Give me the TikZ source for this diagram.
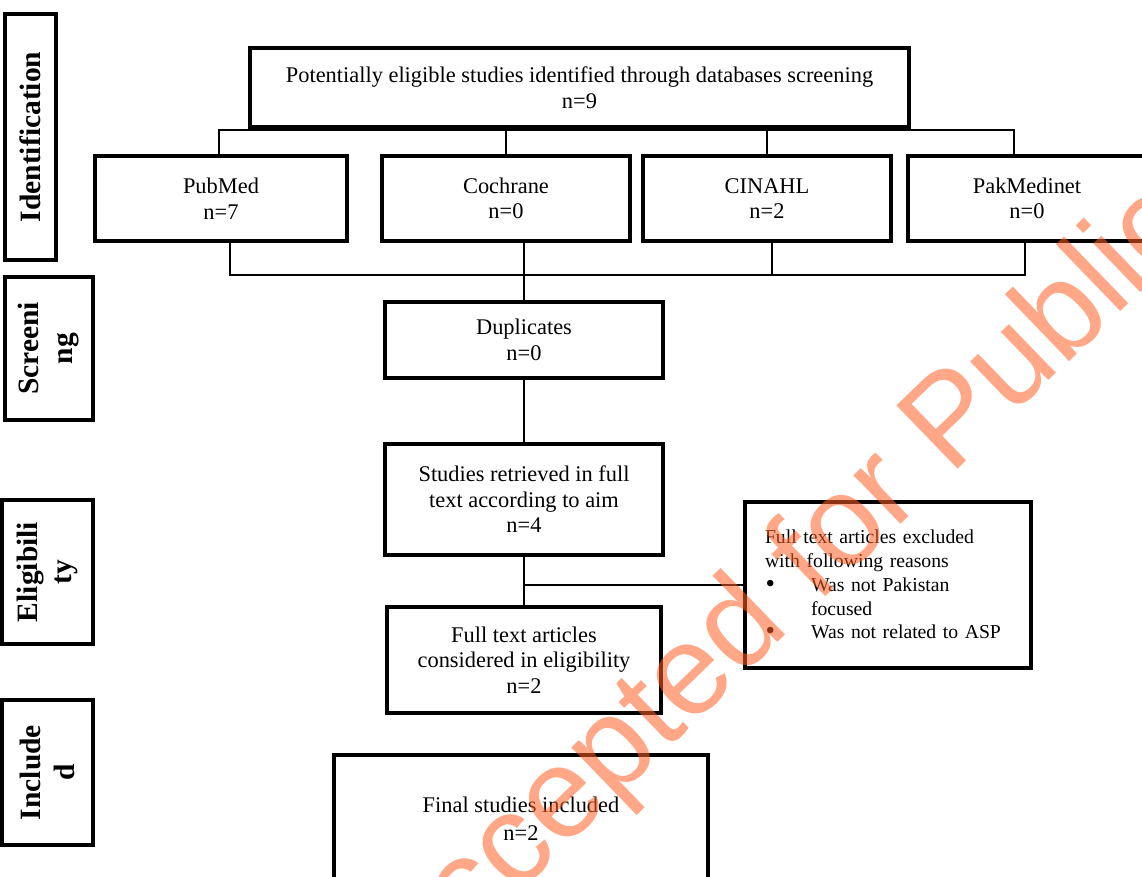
\documentclass[tikz,border=0pt]{standalone}
\usepackage{fontspec}
\setmainfont{Liberation Serif}
\newfontfamily\wmfont{Liberation Sans}
\newcommand{\bodyfont}{\fontsize{22.4}{25.6}\selectfont}
\newcommand{\exclfont}{\fontsize{19.7}{23.7}\selectfont}
\newcommand{\sidefont}{\fontsize{29.5}{34}\selectfont\bfseries}
\newcommand{\bul}{\makebox[46pt][l]{\hspace*{0.5pt}\raisebox{-1pt}{\fontsize{27}{0}\selectfont •}}}
\begin{document}
\begin{tikzpicture}[x=1pt,y=-1pt,
  box/.style={draw, line width=4pt, rectangle, align=center, inner sep=0pt, font=\bodyfont},
  side/.style={draw, line width=4pt, rectangle, rotate=90, align=center, inner sep=0pt, font=\sidefont},
  conn/.style={line width=1.3pt},
  watermark/.style={text=wmcol, opacity=0.55, font=\wmfont\fontsize{128}{128}\selectfont, inner sep=0pt, rotate=44, anchor=base west}]
\definecolor{wmcol}{RGB}{255,95,35}
\useasboundingbox (0,0) rectangle (1142,877);
\clip (0,0) rectangle (1142,877);

% side labels
\node[side, minimum width=246, minimum height=51] (sid) at (30.5,137) {Identification};
\node[side, minimum width=143, minimum height=88] (sscr) at (49,348.5) {Screeni\\ng};
\node[side, minimum width=144, minimum height=91] (selig) at (47.5,572) {Eligibili\\ty};
\node[side, minimum width=145, minimum height=91] (sinc) at (47.5,772.5) {Include\\d};

% top
\node[box, minimum width=659, minimum height=79] (top) at (579.5,88) {Potentially eligible studies identified through databases screening\\[0.4pt]n=9};
\node[box, minimum width=252, minimum height=85] (pubmed) at (221,198.5) {PubMed\\n=7};
\node[box, minimum width=248, minimum height=85] (cochrane) at (506,198.5) {Cochrane\\n=0};
\node[box, minimum width=248, minimum height=85] (cinahl) at (767,198.5) {CINAHL\\n=2};
\node[box, minimum width=238, minimum height=85] (pakmed) at (1027,198.5) {PakMedinet\\n=0};

% flow
\node[box, minimum width=278, minimum height=76] (dup) at (524,340) {Duplicates\\n=0};
\node[box, minimum width=278, minimum height=111] (studies) at (524,499.5) {Studies retrieved in full\\text according to aim\\n=4};
\node[box, minimum width=274, minimum height=106] (full) at (524,660) {Full text articles\\considered in eligibility\\n=2};
\node[box, minimum width=286, minimum height=166, align=left, text width=246, inner xsep=20pt, font=\exclfont] (excl) at (888,585)
  {Full text articles excluded\\with following reasons\\\bul Was not Pakistan\\\hspace*{46pt}focused\\\bul Was not related to ASP};
\node[box, minimum width=374, minimum height=128] (final) at (521,819) {Final studies included\\[2pt]n=2};

% connectors top
\coordinate (tl) at (219,130);
\coordinate (tr) at (1014,130);
\draw[conn] (tl |- pubmed.north) -- (tl) -- (tr) -- (tr |- pakmed.north);
\draw[conn] (cochrane.north) -- (cochrane.north |- tl);
\draw[conn] (cinahl.north) -- (cinahl.north |- tl);

% connectors bottom
\coordinate (bl) at (230,275);
\coordinate (br) at (1025,275);
\coordinate (bc) at (772,275);
\draw[conn] (bl |- pubmed.south) -- (bl) -- (br) -- (br |- pakmed.south);
\draw[conn] (bc |- cinahl.south) -- (bc);
\draw[conn] (dup.north |- cochrane.south) -- (dup.north);

% flow connectors
\draw[conn] (dup.south) -- (studies.north);
\draw[conn] (studies.south) -- (full.north);
\draw[conn] (studies.south |- excl.west) -- (excl.west);

% watermark
\node[watermark] (wm) at (408,1000) {Accepted for Publication};
\end{tikzpicture}
\end{document}
